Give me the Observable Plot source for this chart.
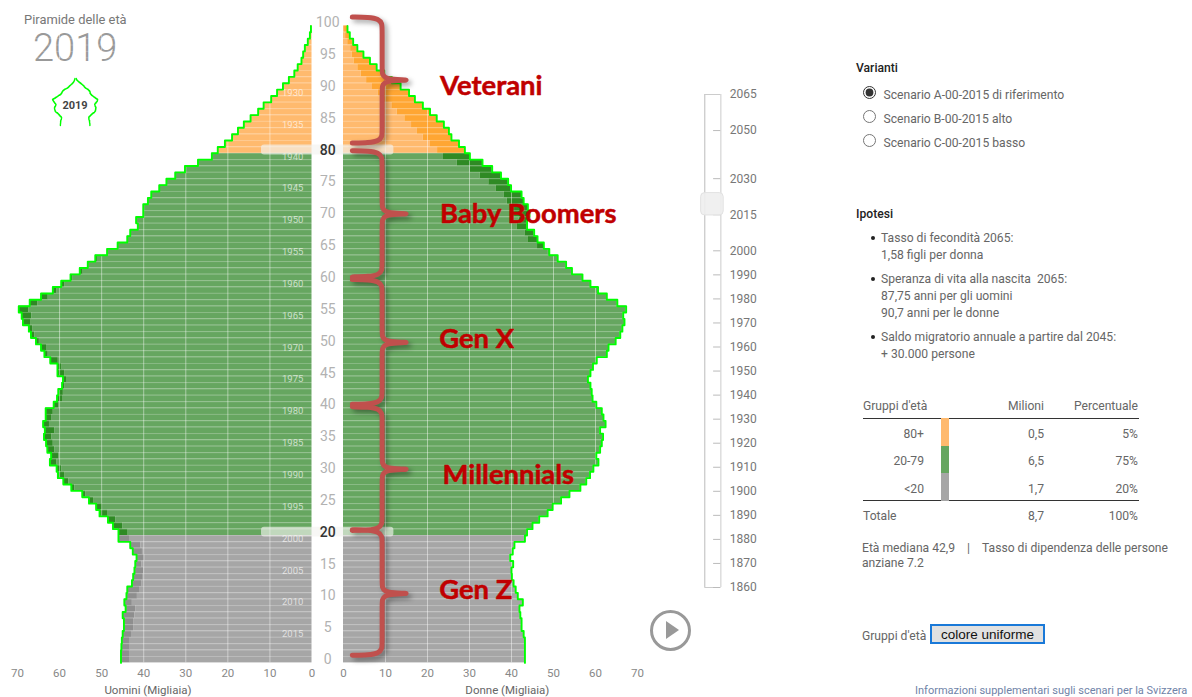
<!DOCTYPE html>
<html lang="it">
<head>
<meta charset="utf-8">
<title>Piramide delle età 2019</title>
<script src="https://cdn.jsdelivr.net/npm/d3@7"></script>
<script src="https://cdn.jsdelivr.net/npm/@observablehq/plot@0.6"></script>
<style>
html,body{margin:0;padding:0;background:#fff;width:1192px;height:697px;overflow:hidden;font-family:Roboto,sans-serif;color:#666}
#page{position:relative;width:1192px;height:697px;overflow:hidden}
#page svg{position:absolute;left:0;top:0;background:transparent}
.t{position:absolute;white-space:nowrap;font-size:12.13px;line-height:16px;color:#666}
.h{color:#222;font-weight:500}
.r{text-align:right}
.line{position:absolute;left:863px;width:276px;height:1px;background:#333}
.strip{position:absolute;left:941px;width:8px}
.bullet{position:absolute;left:871px;width:4px;height:4px;border-radius:50%;background:#222}
input[type=radio]{position:absolute;margin:0;width:13px;height:13px;accent-color:#333}
button{position:absolute;left:930px;top:624px;width:115px;height:20px;padding:0;border:2px solid #1a79d8;background:#e1e1e1;font:13.5px "Liberation Sans",Arial,sans-serif;color:#111}
#play{position:absolute;left:650px;top:610px;width:35px;height:35px;border:3.5px solid #999;border-radius:50%}
#play i{position:absolute;left:13px;top:8px;width:0;height:0;border-left:13px solid #999;border-top:9.5px solid transparent;border-bottom:9.5px solid transparent}
[aria-description="parentesi"]{filter:drop-shadow(3px 3px 2.5px rgba(0,0,0,.35))}
</style>
</head>
<body>
<div id="page">
  <div class="t" style="left:24px;top:12px;font-size:12.9px;color:#777">Piramide delle età</div>
  <div class="t" style="left:33px;top:28px;font-size:38px;line-height:40px;font-weight:300;color:#999">2019</div>

  <div id="play"><i></i></div>

  <div class="t h" style="left:856px;top:60px">Varianti</div>
  <input type="radio" name="v" checked style="left:863px;top:86px">
  <input type="radio" name="v" style="left:863px;top:110px">
  <input type="radio" name="v" style="left:863px;top:134px">
  <div class="t" style="left:883.5px;top:87px">Scenario A-00-2015 di riferimento</div>
  <div class="t" style="left:883.5px;top:111px">Scenario B-00-2015 alto</div>
  <div class="t" style="left:883.5px;top:135px">Scenario C-00-2015 basso</div>

  <div class="t h" style="left:856px;top:206px">Ipotesi</div>
  <div class="bullet" style="top:236px"></div>
  <div class="t" style="left:881px;top:230px">Tasso di fecondità 2065:</div>
  <div class="t" style="left:881px;top:247px">1,58 figli per donna</div>
  <div class="bullet" style="top:277px"></div>
  <div class="t" style="left:881px;top:271px">Speranza di vita alla nascita&nbsp; 2065:</div>
  <div class="t" style="left:881px;top:288px">87,75 anni per gli uomini</div>
  <div class="t" style="left:881px;top:305px">90,7 anni per le donne</div>
  <div class="bullet" style="top:335px"></div>
  <div class="t" style="left:881px;top:329px">Saldo migratorio annuale a partire dal 2045:</div>
  <div class="t" style="left:881px;top:346px">+ 30.000 persone</div>

  <div class="t" style="left:863px;top:398px">Gruppi d'età</div>
  <div class="t r" style="right:148px;top:398px">Milioni</div>
  <div class="t r" style="right:54px;top:398px">Percentuale</div>
  <div class="line" style="top:418px"></div>
  <div class="line" style="top:500px"></div>
  <div class="strip" style="top:418px;height:28px;background:#ffba6e"></div>
  <div class="strip" style="top:446px;height:27px;background:#66a660"></div>
  <div class="strip" style="top:473px;height:28px;background:#a6a6a6"></div>
  <div class="t r" style="right:268px;top:426px">80+</div>
  <div class="t r" style="right:148px;top:426px">0,5</div>
  <div class="t r" style="right:54px;top:426px">5%</div>
  <div class="t r" style="right:268px;top:453px">20-79</div>
  <div class="t r" style="right:148px;top:453px">6,5</div>
  <div class="t r" style="right:54px;top:453px">75%</div>
  <div class="t r" style="right:268px;top:481px">&lt;20</div>
  <div class="t r" style="right:148px;top:481px">1,7</div>
  <div class="t r" style="right:54px;top:481px">20%</div>
  <div class="t" style="left:863px;top:508px">Totale</div>
  <div class="t r" style="right:148px;top:508px">8,7</div>
  <div class="t r" style="right:54px;top:508px">100%</div>

  <div class="t" style="left:862px;top:540px">Età mediana 42,9</div>
  <div class="t" style="left:967px;top:540px">|</div>
  <div class="t" style="left:982px;top:540px">Tasso di dipendenza delle persone</div>
  <div class="t" style="left:862px;top:555px">anziane 7.2</div>
  <div class="t" style="left:862px;top:628px">Gruppi d'età</div>
  <button>colore uniforme</button>
  <div class="t" style="left:915px;top:683px;font-size:11px;color:#6f83a8">Informazioni supplementari sugli scenari per la Svizzera</div>
</div>
<script>
// Values per single year of age (index = age 0..99), thousands of people
const men = [45.4,45.4,45.3,45.2,45,44.7,44.7,45,44.3,44.6,44.1,43.9,42.8,42.5,42.2,42,41.7,42.6,43.2,46,
  46,47.3,48.5,50.5,51.3,53,54.6,57.2,59.1,60.4,60.7,62.3,62,62.9,63.2,63.7,63.5,63.9,63.3,63.3,
  61.4,60.6,60.3,59.4,59.2,60.5,60.5,62.2,63.6,64.4,65.6,66.8,67.3,68.7,69,69.7,67.1,64.4,61.6,59.6,
  57.4,55.2,53.3,51.5,48.7,46.2,43.9,43.2,41.4,41.8,40.1,40.1,39,38.2,36.3,34.6,32.5,30.2,27.1,23.8,
  22.4,20.7,19,17.6,16.2,14.6,12.8,11.5,9.7,8.3,6.9,5.5,4.2,3.4,2.5,2.1,1.7,1,0.5,0.25];
const women = [43.2,43.2,43.2,43.2,42.9,42.4,42.4,42.1,41.9,42.7,41.5,41,40.5,40.1,40,40.4,39.7,40.3,40.7,43.2,
  43.7,45,46.6,48.6,49.8,51.8,53.8,56.4,57.8,58.7,59.5,60.7,60.2,61.1,61.5,61.8,61.1,62.4,61.9,61.5,
  60.2,59.3,59.1,58.8,58.2,58.8,59.4,60.3,62.7,63.1,64.8,65.9,66.4,66.9,66.6,67.3,65.2,62.7,60.6,58.8,
  56.9,54.4,53,51,49,47.7,46.2,45.4,43.7,43.7,44.3,43.9,42.9,42.4,39.9,39.2,37.5,35.4,33.1,30.1,
  28.9,27.5,25.7,25.1,23.9,22.2,20.6,18.9,17,15.6,13.6,11.5,9.7,7.9,6.3,4.75,3.3,2.3,1.5,0.95];
const xTicks = [-70,-60,-50,-40,-30,-20,-10,0,1e-6,10,20,30,40,50,60,70];
const gridValues = [-60,-50,-40,-30,-20,-10,10,20,30,40,50,60];
const ageLabels = [0,5,10,15,25,30,35,40,45,50,55,60,65,70,75,85,90,95,100];
const ageMarked = [20,80];
const birthYears = [1930,1935,1940,1945,1950,1955,1960,1965,1970,1975,1980,1985,1990,1995,2000,2005,2010,2015];
const selectedYear = 2019;
const generations = ["Veterani","Baby Boomers","Gen X","Millennials","Gen Z"];
const genTop = [101.4,80.4,60.2,40.2,20.9];
const genMid = [91.5,70.5,50.3,30.4,10.9];
const genBottom = [81.6,60.6,40.6,20.8,1.2];
const genLabelAge = [90.5,70.5,50.8,29.4,11.4];
const genLabelX = [23,23,22.8,23.6,22.8];
const sliderYears = [2065,2050,2030,2015,2000,1990,1980,1970,1960,1950,1940,1930,1920,1910,1900,1890,1880,1870,1860];

const womenZero = 1e-6;
const palette = {
  light: a => a >= 80 ? "#ffba6e" : a >= 20 ? "#66a660" : "#a6a6a6",
  dark:  a => a >= 80 ? "#ffa633" : a >= 20 ? "#2f8a24" : "#8e8e8e"
};

const rows = men.flatMap((m, age) => {
  const f = women[age], lo = Math.min(m, f);
  return [
    {age, x1: 0, x2: -lo, fill: palette.light(age)},
    {age, x1: -lo, x2: -m, fill: palette.dark(age)},
    {age, x1: womenZero, x2: lo, fill: palette.light(age)},
    {age, x1: lo, x2: f, fill: palette.dark(age)}
  ];
});
const outline = (vals, sign) => vals.flatMap((v, age) => [{x: sign * v, y: age}, {x: sign * v, y: age + 1}]);
const outlineMen = outline(men, -1), outlineWomen = outline(women, 1);
const spine = 9.2, tip = 16.6, end = 2.1;
const braces = generations.flatMap((g, i) => {
  const t = genTop[i], m = genMid[i], b = genBottom[i];
  return [[end,t],[6,t-0.05],[8.4,t-0.3],[spine,t-1.1],[spine,t-1.7],[spine,m+1.6],[spine,m+1],[9.8,m+0.35],[11.5,m+0.08],[tip,m],
          [11.5,m-0.08],[9.8,m-0.35],[spine,m-1],[spine,m-1.6],[spine,b+1.7],[spine,b+1.1],[8.4,b+0.3],[6,b+0.05],[end,b]]
    .map(([x,y]) => ({g, x, y}));
});
const svgStyle = {background:"transparent", fontFamily:"Roboto,sans-serif", overflow:"visible"};

const main = Plot.plot({
  width:1192, height:697, marginTop:25.4, marginBottom:34.6, marginLeft:17, marginRight:555,
  style: svgStyle,
  x:{type:"linear", domain:[-70,0,womenZero,70], range:[17,311.5,343,637], axis:null},
  y:{type:"linear", domain:[0,100], axis:null},
  color:{type:"identity"},
  marks:[
    Plot.rect(rows,{x1:"x1",x2:"x2",y1:"age",y2:d=>d.age+1,fill:"fill"}),
    Plot.ruleY(d3.range(1,100),{x1:-70,x2:70,stroke:"#fff",strokeOpacity:0.22,strokeWidth:1}),
    Plot.ruleX(gridValues,{y1:0,y2:100,stroke:"#fff",strokeOpacity:0.45,strokeWidth:1}),
    Plot.text(birthYears,{x:-4.6,y:d=>selectedYear-d+0.5,text:d=>String(d),fill:"#fff",fillOpacity:0.65,fontSize:9.5}),
    Plot.line(outlineMen,{x:"x",y:"y",stroke:"#00ff00",strokeWidth:1.9}),
    Plot.line(outlineWomen,{x:"x",y:"y",stroke:"#00ff00",strokeWidth:1.9}),
    Plot.rect(ageMarked,{x1:-12,x2:12,y1:d=>d-0.25,y2:d=>d+1.3,fill:"#f2f2f0",fillOpacity:0.65,rx:3}),
    Plot.axisX({ticks:xTicks,tickFormat:d=>String(Math.round(Math.abs(d))),tickSize:0,tickPadding:6,fontSize:11.5,color:"#888",label:null}),
    Plot.text(ageLabels,{x:womenZero,dx:-15.7,y:d=>d+0.5,text:d=>String(d),fill:"#b2b2b2",fontSize:14}),
    Plot.text(ageMarked,{x:womenZero,dx:-15.7,y:d=>d+0.5,text:d=>String(d),fill:"#333",fontSize:14,fontWeight:500}),
    Plot.text(["Uomini (Migliaia)"],{x:-39,y:-4.3,text:d=>d,fill:"#666",fontSize:11.5}),
    Plot.text(["Donne (Migliaia)"],{x:39,y:-4.3,text:d=>d,fill:"#666",fontSize:11.5}),
    Plot.line(braces,{x:"x",y:"y",z:"g",curve:"basis",stroke:"#c0504d",strokeWidth:5,strokeLinecap:"round",ariaDescription:"parentesi"}),
    Plot.text(generations,{x:(d,i)=>genLabelX[i],y:(d,i)=>genLabelAge[i],text:d=>d,textAnchor:"start",fill:"#c00000",stroke:"#c00000",strokeWidth:0.5,fontFamily:"Lato,sans-serif",fontWeight:700,fontSize:27.4})
  ]
});

const mini = Plot.plot({
  width:1192, height:697, marginTop:78, marginBottom:572, marginLeft:52, marginRight:1094,
  style: svgStyle,
  x:{type:"linear", domain:[-70,0,womenZero,70], range:[52,74.5,75.5,98], axis:null},
  y:{type:"linear", domain:[0,100], axis:null},
  marks:[
    Plot.line(outlineMen,{x:"x",y:"y",stroke:"#00ff00",strokeWidth:1.4}),
    Plot.line(outlineWomen,{x:"x",y:"y",stroke:"#00ff00",strokeWidth:1.4}),
    Plot.text([selectedYear],{x:0,y:43,text:d=>String(d),fill:"#444",fontSize:11,fontWeight:700})
  ]
});

const slider = Plot.plot({
  width:1192, height:697, marginTop:94, marginBottom:110, marginLeft:704.3, marginRight:471.7,
  style: svgStyle,
  x:{type:"linear", domain:[0,1], axis:null},
  y:{type:"linear", domain:[1860,2065], axis:null},
  marks:[
    Plot.ruleX([0],{y1:1860,y2:2065,stroke:"#bbb",strokeWidth:1}),
    Plot.ruleX([1],{y1:1860,y2:2065,stroke:"#ddd",strokeWidth:1.5}),
    Plot.ruleY([1860,2065],{x1:0,x2:1,stroke:"#ccc",strokeWidth:1}),
    Plot.ruleY(sliderYears.slice(1),{x1:0.55,x2:1,stroke:"#bbb",strokeWidth:1}),
    Plot.text(sliderYears,{x:1,dx:9,y:d=>d,text:d=>String(d),textAnchor:"start",fill:"#777",fontSize:12}),
    Plot.rect([selectedYear],{x1:-0.23,x2:1.18,y1:d=>d-4.3,y2:d=>d+5,rx:4,fill:"#eee",fillOpacity:0.9,stroke:"#e2e2e2"})
  ]
});

document.getElementById("page").append(main, mini, slider);
</script>
</body>
</html>
